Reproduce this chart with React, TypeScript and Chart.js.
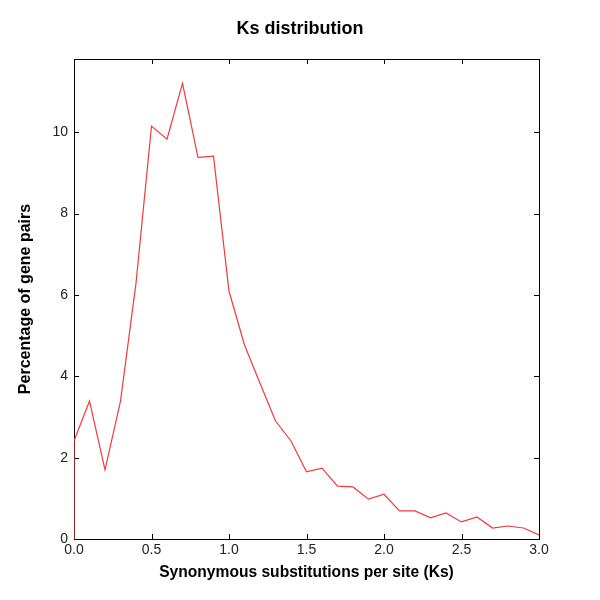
import React, { useEffect, useRef } from "react";
import { Chart, registerables } from "chart.js";

Chart.register(...registerables);

const ksValues = [0.0, 0.0, 0.1, 0.2, 0.3, 0.4, 0.5, 0.6, 0.7, 0.8, 0.9, 1.0, 1.1, 1.2, 1.3, 1.4, 1.5, 1.6, 1.7, 1.8, 1.9, 2.0, 2.1, 2.2, 2.3, 2.4, 2.5, 2.6, 2.7, 2.8, 2.9, 3.0];
const percentages = [0.0, 2.41, 3.39, 1.70, 3.39, 6.29, 10.15, 9.83, 11.2, 9.38, 9.41, 6.09, 4.77, 3.83, 2.90, 2.41, 1.65, 1.74, 1.30, 1.28, 0.98, 1.10, 0.69, 0.69, 0.52, 0.64, 0.42, 0.54, 0.27, 0.32, 0.27, 0.10];
const xTickValues = [0, 0.5, 1.0, 1.5, 2.0, 2.5, 3.0];
const yTickValues = [0, 2, 4, 6, 8, 10];

const TICK_FONT = "'Liberation Sans', 'DejaVu Sans', sans-serif";
const TITLE_FONT = "'Liberation Sans', sans-serif";

const framePlugin = {
  id: "frame",
  beforeDatasetsDraw(chart: any) {
    const { ctx, chartArea } = chart;
    const { left, right, top, bottom } = chartArea;
    const xs = chart.scales.x;
    const ys = chart.scales.y;
    const len = 5;
    ctx.save();
    ctx.strokeStyle = "#000";
    ctx.lineWidth = 1;
    ctx.strokeRect(Math.round(left) + 0.5, Math.round(top) + 0.5, Math.round(right - left), Math.round(bottom - top));
    ctx.beginPath();
    xTickValues.forEach((v) => {
      const px = Math.round(xs.getPixelForValue(v)) + 0.5;
      ctx.moveTo(px, bottom);
      ctx.lineTo(px, bottom - len);
      ctx.moveTo(px, top);
      ctx.lineTo(px, top + len);
    });
    yTickValues.forEach((v) => {
      const py = Math.round(ys.getPixelForValue(v)) + 0.5;
      ctx.moveTo(left, py);
      ctx.lineTo(left + len, py);
      ctx.moveTo(right, py);
      ctx.lineTo(right - len, py);
    });
    ctx.stroke();
    ctx.restore();
  },
};

export default function App() {
  const ref = useRef<HTMLCanvasElement>(null);
  useEffect(() => {
    document.body.style.margin = "0";
    const canvas = ref.current!;
    const chart = new Chart(canvas, {
      type: "line",
      data: {
        datasets: [
          {
            data: ksValues.map((x, i) => ({ x, y: percentages[i] })),
            borderColor: "#f33a3a",
            borderWidth: 1.2,
            pointRadius: 0,
            fill: false,
            tension: 0,
          },
        ],
      },
      options: {
        animation: false,
        responsive: false,
        layout: { padding: 0 },
        plugins: {
          legend: { display: false },
          tooltip: { enabled: false },
          title: {
            display: true,
            text: "Ks distribution",
            color: "#000",
            font: { family: TITLE_FONT, size: 18, weight: "bold", lineHeight: 1.2 },
            padding: { top: 18.5, bottom: 18.9 },
          },
        },
        scales: {
          x: {
            type: "linear",
            min: 0,
            max: 3,
            afterBuildTicks: (s: any) => {
              s.ticks = xTickValues.map((v) => ({ value: v }));
            },
            afterFit: (s: any) => {
              s.height = 61;
            },
            grid: { display: false, drawTicks: false },
            border: { display: false },
            ticks: {
              color: "#222",
              padding: 3,
              maxRotation: 0,
              font: { family: TICK_FONT, size: 14 },
              callback: (v: any) => Number(v).toFixed(1),
            },
            title: {
              display: true,
              text: "Synonymous substitutions per site (Ks)",
              color: "#000",
              font: { family: TITLE_FONT, size: 15.6, weight: "bold", lineHeight: 1.2 },
              padding: { top: 0, bottom: 18 },
            },
          },
          y: {
            type: "linear",
            min: 0,
            max: 11.8,
            afterBuildTicks: (s: any) => {
              s.ticks = yTickValues.map((v) => ({ value: v }));
            },
            afterFit: (s: any) => {
              s.width = 74;
            },
            grid: { display: false, drawTicks: false },
            border: { display: false },
            ticks: {
              color: "#222",
              padding: 6,
              font: { family: TICK_FONT, size: 14 },
            },
            title: {
              display: true,
              text: "Percentage of gene pairs",
              color: "#000",
              font: { family: TITLE_FONT, size: 16, weight: "bold", lineHeight: 1.2 },
              padding: { top: 16, bottom: 0 },
            },
          },
          yRight: {
            type: "linear",
            position: "right",
            min: 0,
            max: 11.8,
            afterBuildTicks: (s: any) => {
              s.ticks = [];
            },
            afterFit: (s: any) => {
              s.width = 61;
            },
            grid: { display: false, drawTicks: false },
            border: { display: false },
            ticks: { display: false },
          },
        },
      },
      plugins: [framePlugin],
    });
    return () => chart.destroy();
  }, []);
  return <canvas ref={ref} width={600} height={600} style={{ display: "block" }} />;
}
